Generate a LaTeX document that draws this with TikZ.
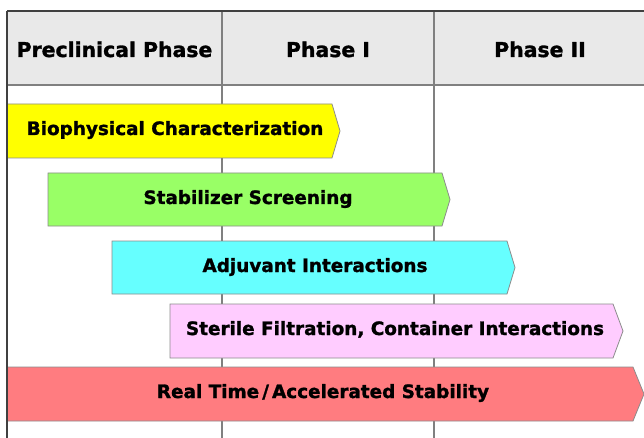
\documentclass[tikz,border=0pt]{standalone}
\usepackage{fontspec}
\setmainfont{DejaVu Sans}[BoldFeatures={FakeBold=1.4}]
\definecolor{headgray}{HTML}{E9E9E9}
\definecolor{barYellow}{HTML}{FFFF00}
\definecolor{barGreen}{HTML}{99FF66}
\definecolor{barCyan}{HTML}{66FFFF}
\definecolor{barPink}{HTML}{FFCCFF}
\definecolor{barRed}{HTML}{FF7C80}
\begin{document}
\begin{tikzpicture}[x=1pt,y=-1pt,
  frameline/.style={draw=black!75,line width=1.6pt},
  divider/.style={draw=black!50,line width=1.3pt},
  barline/.style={draw=black!45,line width=0.8pt},
  headtext/.style={font=\bfseries\fontsize{20.4}{24}\selectfont,inner sep=0pt,anchor=base},
  bartext/.style={font=\bfseries\fontsize{18.4}{20}\selectfont,inner sep=0pt,anchor=base}]
\useasboundingbox (0,0) rectangle (644,438);

% header band and grid
\fill[headgray] (7,11) rectangle (644,85);
\draw[divider] (222,11) -- (222,438);
\draw[divider] (434,11) -- (434,438);
\draw[frameline] (7,11) -- (644,11);
\draw[divider] (7,85) -- (644,85);

\node[headtext] (hpre) at (114.5,57) {Preclinical Phase};
\node[headtext] (hone) at (328,57) {Phase I};
\node[headtext] (htwo) at (540,57) {Phase II};

% activity bars
\path[barline,fill=barYellow] (7,104) -- (332,104) -- (340,131) -- (332,158) -- (7,158) -- cycle;
\path[barline,fill=barGreen] (48,173) -- (442,173) -- (450,199.5) -- (442,226) -- (48,226) -- cycle;
\path[barline,fill=barCyan] (112,241) -- (507,241) -- (515,267.5) -- (507,294) -- (112,294) -- cycle;
\path[barline,fill=barPink] (170,304) -- (613,304) -- (623,331) -- (613,358) -- (170,358) -- cycle;
\path[barline,fill=barRed] (7,367) -- (633,367) -- (644,394) -- (633,421) -- (7,421) -- cycle;

\draw[frameline] (7,11) -- (7,438);

\node[bartext] (bio) at (175,135) {Biophysical Characterization};
\node[bartext] (stab) at (248,204) {Stabilizer Screening};
\node[bartext] (adj) at (315,272) {Adjuvant Interactions};
\node[bartext] (ster) at (395,335) {Sterile Filtration, Container Interactions};
\node[bartext] (real) at (323,398) {Real Time\,/\,Accelerated Stability};
\end{tikzpicture}
\end{document}
